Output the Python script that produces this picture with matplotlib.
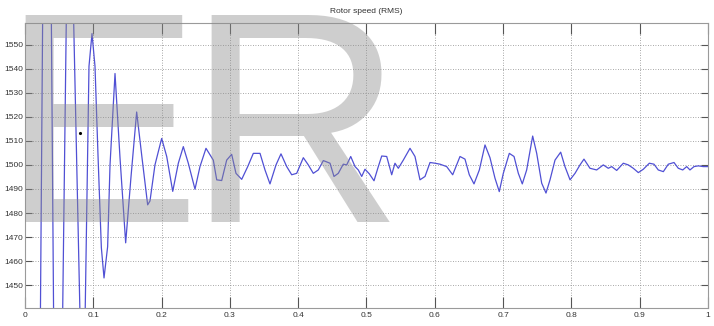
import numpy as np
import matplotlib
matplotlib.use("Agg")
import matplotlib.pyplot as plt
from matplotlib import font_manager

# rotor speed trace (time in s, speed in rpm)
t = [0.000, 0.0176, 0.0322, 0.0469, 0.0644, 0.0849, 0.0937, 0.0981, 0.1025, 0.1069,
     0.1118, 0.1157, 0.1210, 0.1245,
     0.1318, 0.1391, 0.1474, 0.1552, 0.1635, 0.1713, 0.1796, 0.1830, 0.1903, 0.2001,
     0.2075, 0.2163, 0.2245, 0.2318, 0.2391, 0.2489, 0.2562, 0.2650, 0.2757, 0.2807,
     0.2880, 0.2953, 0.3026, 0.3089, 0.3173, 0.3261, 0.3343, 0.3441, 0.3514, 0.3587,
     0.3675, 0.3748, 0.3832, 0.3905, 0.3978, 0.4075, 0.4148, 0.4221, 0.4294, 0.4368,
     0.4466, 0.4524, 0.4587, 0.4660, 0.4710, 0.4769, 0.4832, 0.4880, 0.4930, 0.4978,
     0.5041, 0.5110, 0.5173, 0.5223, 0.5296, 0.5369, 0.5417, 0.5466, 0.5539, 0.5637,
     0.5710, 0.5783, 0.5857, 0.5930, 0.6003, 0.6076, 0.6174, 0.6262, 0.6369, 0.6442,
     0.6505, 0.6574, 0.6652, 0.6735, 0.6808, 0.6881, 0.6944, 0.7003, 0.7091, 0.7160,
     0.7223, 0.7281, 0.7345, 0.7433, 0.7492, 0.7565, 0.7628, 0.7687, 0.7760, 0.7843,
     0.7906, 0.7980, 0.8053, 0.8126, 0.8184, 0.8272, 0.8370, 0.8467, 0.8540, 0.8590,
     0.8663, 0.8760, 0.8833, 0.8906, 0.8980, 0.9053, 0.9141, 0.9209, 0.9272, 0.9346,
     0.9419, 0.9502, 0.9565, 0.9630, 0.9688, 0.9736, 0.9795, 0.9858, 0.9931, 1.000]
speed = [1100, 1250, 1800, 1250, 1650, 1380, 1541, 1554.6, 1541, 1504,
         1465.6, 1453, 1466, 1500,
         1538, 1503, 1467.6, 1495, 1522, 1503, 1483.4, 1485, 1500, 1511,
         1503.5, 1489, 1500.7, 1507.6, 1500.7, 1489.9, 1499.3, 1506.9, 1502, 1493.8,
         1493.5, 1502, 1504.4, 1496.5, 1494, 1499.3, 1504.8, 1504.8, 1497.9, 1492.1,
         1500, 1504.6, 1499.3, 1495.9, 1496.5, 1503, 1500, 1496.5, 1497.9, 1501.8,
         1500.7, 1495.2, 1496.5, 1500.3, 1500, 1503.5, 1499.3, 1497.9, 1495.2, 1498.2,
         1496.3, 1493.4, 1499.3, 1503.7, 1503.5, 1495.9, 1500.7, 1498.6, 1502, 1506.9,
         1503.5, 1493.8, 1495.2, 1501, 1500.7, 1500.3, 1499.3, 1495.9, 1503.5, 1502.4,
         1495.9, 1492.1, 1497.9, 1508.3, 1503, 1494.5, 1488.9, 1496.5, 1504.8, 1503.5,
         1496.5, 1492.1, 1497.9, 1512, 1504.8, 1492.4, 1488.3, 1493.8, 1502, 1505.3,
         1499.3, 1493.8, 1496.5, 1500, 1502.4, 1498.6, 1497.9, 1500, 1498.6, 1499.3,
         1497.7, 1500.7, 1500, 1498.6, 1496.8, 1498.2, 1500.7, 1500.3, 1497.9, 1497.2,
         1500.3, 1501, 1498.6, 1497.9, 1499.3, 1497.9, 1499.3, 1499.6, 1499.3, 1499.3]

xticks = [0, 0.1, 0.2, 0.3, 0.4, 0.5, 0.6, 0.7, 0.8, 0.9, 1]
xtick_labels = ["0", "0.1", "0.2", "0.3", "0.4", "0.5", "0.6", "0.7", "0.8", "0.9", "1"]
yticks = [1450, 1460, 1470, 1480, 1490, 1500, 1510, 1520, 1530, 1540, 1550]

# narrow font for the tick labels if there is one
try:
    font_manager.findfont('Liberation Sans Narrow', fallback_to_default=False)
    tick_font = 'Liberation Sans Narrow'
except Exception:
    tick_font = 'Liberation Sans'
plt.rcParams['font.family'] = [tick_font, 'DejaVu Sans']

fig = plt.figure(figsize=(7.14, 3.26), dpi=100)
ax = fig.add_axes([0.035, 0.0552, 0.9566, 0.8742])

ax.plot(t, speed, color='#5050d4', lw=0.9)
ax.plot([0.081], [1513.3], marker='.', color='black', ms=2.5)  # stray dot

ax.set_xlim(0, 1)
ax.set_ylim(1440.5, 1559)
ax.set_xticks(xticks)
ax.set_xticklabels(xtick_labels)
ax.set_yticks(yticks)
ax.tick_params(direction='in', top=True, right=True, labelsize=6,
               colors='#555555', labelcolor='#333333', width=0.8)
ax.tick_params(axis='x', length=8, pad=3)
ax.tick_params(axis='y', length=5, pad=1.5)
ax.grid(True, color='#8a8a8a', linestyle=(0, (1, 2)), lw=0.6)
for s in ax.spines.values():
    s.set_color('#9a9a9a')
    s.set_linewidth(0.8)

ax.set_title('Rotor speed (RMS)', fontsize=6, color='#333333', pad=7)

# big grey "ER" watermark laid over the chart (two letters placed separately)
wm = dict(family='Liberation Sans', fontsize=216, color='#8c8c8c', alpha=0.42,
          ha='left', va='baseline', zorder=5)
fig.text(0.0, 1 - 222 / 326, 'E', **wm)
fig.text(186 / 714, 1 - 222 / 326, 'R', **wm)

fig.savefig('out.png', dpi=100)
